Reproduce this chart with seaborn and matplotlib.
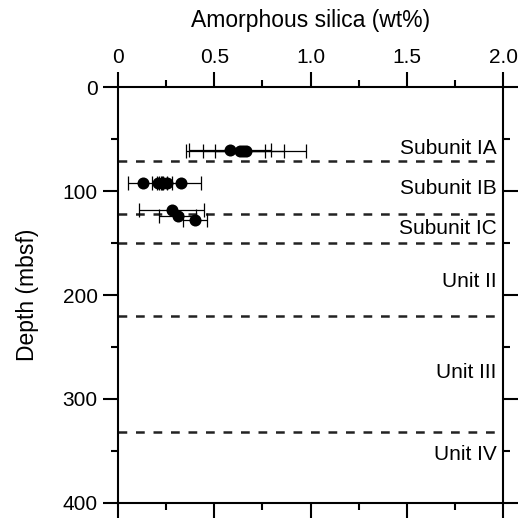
import matplotlib
matplotlib.use("Agg")
import matplotlib.pyplot as plt
import seaborn as sns
import pandas as pd
from matplotlib.ticker import MultipleLocator

# Data
silica = [0.582, 0.634, 0.651, 0.665,
          0.128, 0.206, 0.235, 0.253, 0.327,
          0.279, 0.310, 0.400]
depth = [61, 62, 62, 62,
         92, 92, 92, 92, 92,
         118, 124, 128]
err = [0.215, 0.128, 0.21, 0.31,
       0.074, 0.03, 0.02, 0.025, 0.104,
       0.17, 0.095, 0.062]

boundaries = [71, 122, 150, 220, 332]
unit_labels = ["Subunit IA", "Subunit IB", "Subunit IC", "Unit II", "Unit III", "Unit IV"]
label_depths = [59, 98, 136, 187, 275, 353]

df = pd.DataFrame({"silica": silica, "depth": depth, "err": err})

sns.set_style("white")
plt.rcParams["font.family"] = ["Liberation Sans", "DejaVu Sans"]
plt.rcParams.update({"text.color": "black", "axes.labelcolor": "black",
                     "xtick.color": "black", "ytick.color": "black"})

fig = plt.figure(figsize=(5.21, 5.18), dpi=100)
ax = fig.add_axes([0.2265, 0.029, 0.739, 0.803])

for b in boundaries:
    ax.axhline(b, color="#222222", lw=1.8, ls=(0, (3.5, 3.5)), zorder=1)

ax.errorbar(df["silica"], df["depth"], xerr=df["err"], fmt="none",
            ecolor="black", elinewidth=0.9, capsize=5, capthick=0.9, zorder=2)
sns.scatterplot(data=df, x="silica", y="depth", ax=ax, color="black",
                s=75, edgecolor="black", linewidth=0, zorder=3, legend=False)

for lab, d in zip(unit_labels, label_depths):
    ax.text(1.965, d, lab, ha="right", va="center", fontsize=15)

ax.set_xlim(0, 2.0)
ax.set_ylim(400, 0)
ax.xaxis.set_major_locator(MultipleLocator(0.5))
ax.xaxis.set_minor_locator(MultipleLocator(0.25))
ax.yaxis.set_major_locator(MultipleLocator(100))
ax.yaxis.set_minor_locator(MultipleLocator(50))
ax.set_xticks([0, 0.5, 1.0, 1.5, 2.0])
ax.set_xticklabels(["0", "0.5", "1.0", "1.5", "2.0"])
ax.xaxis.set_label_position("top")
ax.tick_params(axis="x", which="both", top=True, bottom=True, labeltop=True,
               labelbottom=False, direction="out")
ax.tick_params(axis="y", which="both", left=True, right=True, direction="out")
ax.tick_params(which="major", length=10.5, width=1.5, labelsize=15, pad=4)
ax.tick_params(which="minor", length=5, width=1.5)
for s in ax.spines.values():
    s.set_linewidth(1.5)
    s.set_color("black")

ax.set_xlabel("Amorphous silica (wt%)", fontsize=16.5, labelpad=15)
ax.set_ylabel("Depth (mbsf)", fontsize=16.5, labelpad=17)

fig.savefig("out.png", dpi=100)
